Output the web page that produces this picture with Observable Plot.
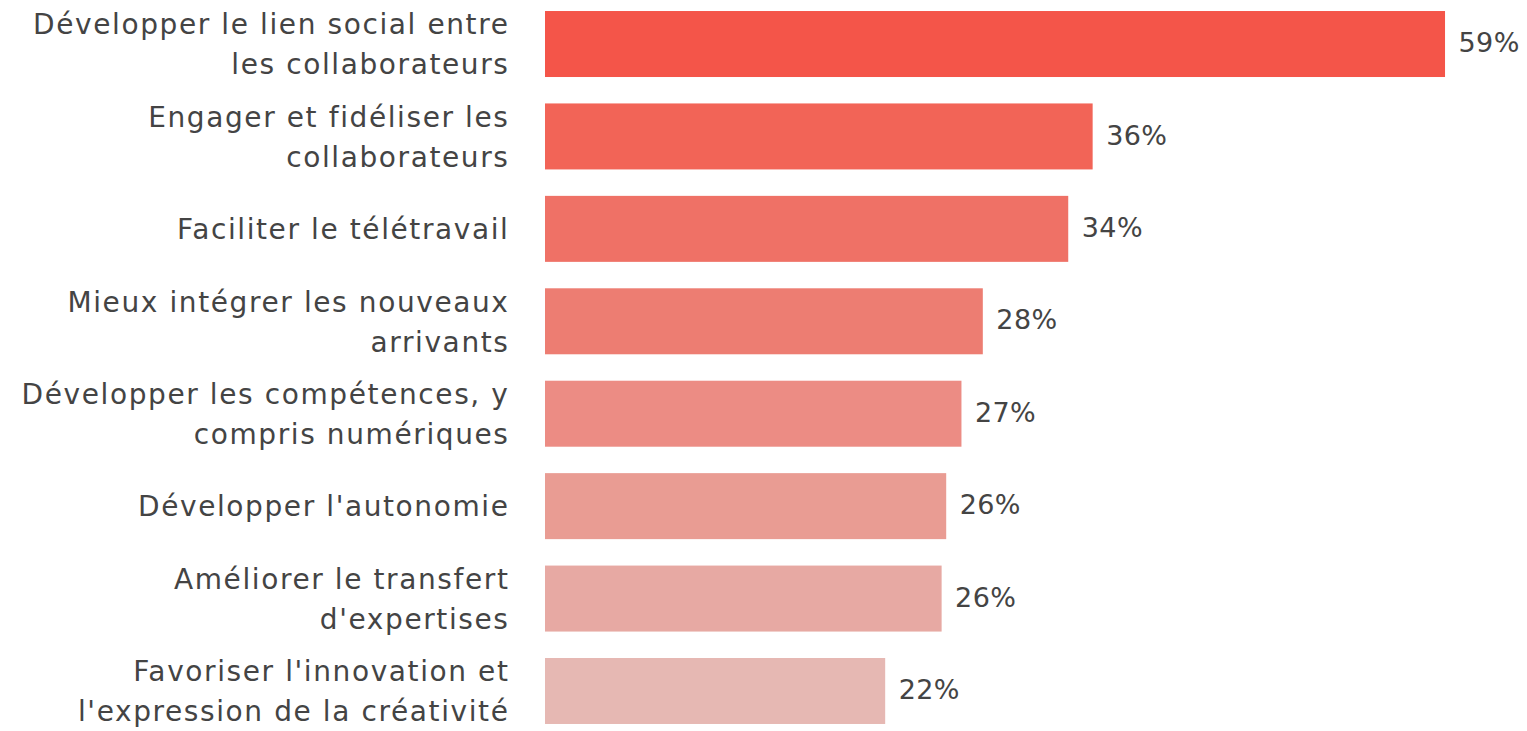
<!DOCTYPE html>
<html>
<head>
<meta charset="utf-8">
<script src="https://cdn.jsdelivr.net/npm/d3@7"></script>
<script src="https://cdn.jsdelivr.net/npm/@observablehq/plot@0.6"></script>
<style>
  html, body { margin: 0; padding: 0; background: #fff; }
  #chart svg { display: block; }
  .cat-labels text { letter-spacing: 1.6px; }
  .val-labels text { letter-spacing: 0.4px; }
</style>
</head>
<body>
<div id="chart"></div>
<script>
const categories = [
  "Développer le lien social entre\nles collaborateurs",
  "Engager et fidéliser les\ncollaborateurs",
  "Faciliter le télétravail",
  "Mieux intégrer les nouveaux\narrivants",
  "Développer les compétences, y\ncompris numériques",
  "Développer l'autonomie",
  "Améliorer le transfert\nd'expertises",
  "Favoriser l'innovation et\nl'expression de la créativité"
];
const values = [59, 35.9, 34.3, 28.7, 27.3, 26.3, 26.0, 22.3];
const valueLabels = ["59%", "36%", "34%", "28%", "27%", "26%", "26%", "22%"];
const colors = ["#F45549", "#F26457", "#EF7166", "#ED7D72", "#EC8C84", "#E99C93", "#E7A9A3", "#E6B8B3"];

const data = categories.map((c, i) => ({category: c, value: values[i], label: valueLabels[i], color: colors[i]}));

const font = "'DejaVu Sans', sans-serif";
const textColor = "#444444";

const chart = Plot.plot({
  width: 1527,
  height: 731,
  marginLeft: 545,
  marginRight: 0,
  marginTop: 0,
  marginBottom: 0,
  style: {fontFamily: font, background: "#fff"},
  x: {domain: [0, 64], range: [545, 1521.3], axis: null},
  y: {domain: categories, range: [2.7, 732.3], paddingInner: 0.286, paddingOuter: 0.09, round: false, axis: null},
  marks: [
    Plot.barX(data, {x: "value", y: "category", fill: "color"}),
    Plot.text(data, {x: 0, y: "category", text: "category", textAnchor: "end", dx: -36, dy: -3, fontSize: 28, lineHeight: 1.43, fill: textColor, className: "cat-labels"}),
    Plot.text(data, {x: "value", y: "category", text: "label", textAnchor: "start", dx: 13, dy: -1, fontSize: 27, fill: textColor, className: "val-labels"})
  ]
});
document.getElementById("chart").appendChild(chart);
</script>
</body>
</html>
